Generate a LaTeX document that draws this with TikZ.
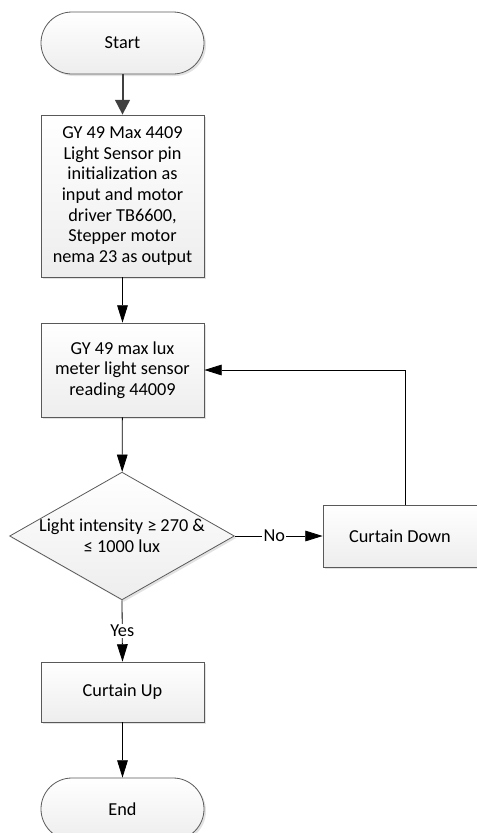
\documentclass[tikz,border=0pt]{standalone}
\usepackage{fontspec}
\setmainfont{Carlito}
\usetikzlibrary{shapes.geometric,arrows.meta,shadows,calc}
\tikzset{
  px/.style={x=0.75pt,y=-0.75pt},
  base/.style={draw=gray!70!black, line width=0.6pt, top color=white, bottom color=gray!14,
    drop shadow={shadow xshift=1.5pt, shadow yshift=-1.5pt, fill=gray!45, opacity=0.5},
    font=\fontsize{13.7pt}{15.5pt}\selectfont, align=center, inner sep=0pt},
  term/.style={base, rectangle, rounded corners=23.2pt, minimum width=122.25pt, minimum height=46.5pt},
  proc/.style={base, rectangle, minimum width=122.25pt},
  dec/.style={base, diamond, minimum width=163.5pt, minimum height=93pt, aspect=1.76},
  conn/.style={line width=0.6pt, -{Triangle[length=13pt,width=8pt]}},
  lbl/.style={fill=white, inner sep=1pt, font=\fontsize{13.7pt}{15.5pt}\selectfont}
}
\begin{document}
\begin{tikzpicture}[px]
\useasboundingbox (0,0) rectangle (477,833);
\node[term] (start) at (122.5,43) {Start};
\node[proc, minimum height=121.5pt] (init) at (122.5,196) {GY 49 Max 4409\\Light Sensor pin\\initialization as\\input and motor\\driver TB6600,\\Stepper motor\\nema 23 as output};
\node[proc, minimum height=70.5pt] (read) at (122.5,370) {GY 49 max lux\\meter light sensor\\reading 44009};
\node[dec] (dec) at (122,536) {Light intensity ≥ 270 \&\\≤ 1000 lux};
\node[proc, minimum width=115.5pt, minimum height=46.5pt] (down) at (400,536) {Curtain Down};
\node[proc, minimum height=45pt] (up) at (122.5,692) {Curtain Up};
\node[term] (end) at (122.5,809) {End};
\coordinate (loop) at (405,505);
\draw[conn, draw=black!75, fill=black!75, line width=1.5pt, -{Triangle[length=11pt,width=11pt]}] (start) -- (init);
\draw[conn] (init) -- (read);
\draw[conn] (read) -- (dec);
\draw[conn] (dec.east) -- node[lbl, pos=0.45] (no) {No} (down.west);
\draw[conn] (dec.south) -- node[lbl, pos=0.5] (yes) {Yes} (up.north);
\draw[conn] (up) -- (end);
\draw[conn] (loop) |- (read.east);
\end{tikzpicture}
\end{document}
